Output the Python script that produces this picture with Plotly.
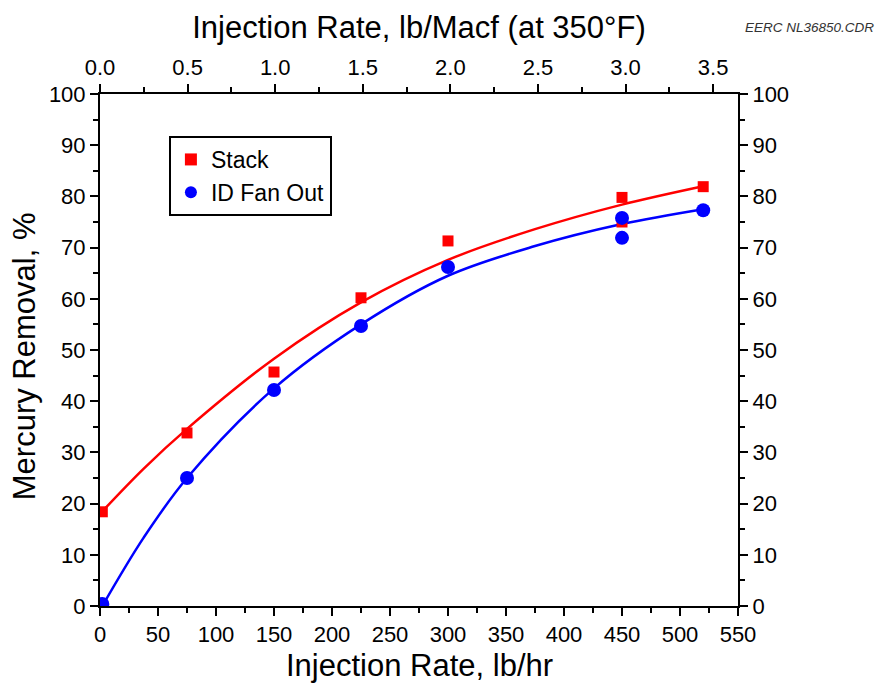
import plotly.graph_objects as go

# Measured points
stack_x = [2, 75, 150, 225, 300, 450, 450, 520]
stack_y = [18.4, 33.8, 45.7, 60.2, 71.3, 79.8, 75.0, 81.9]
fan_x = [2, 75, 150, 225, 300, 450, 450, 520]
fan_y = [0.4, 25.0, 42.2, 54.7, 66.2, 75.8, 71.9, 77.3]

# Fitted curves
curve_x = [2, 37.5, 75, 150, 225, 300, 375, 450, 520]
stack_fit = [18.5, 26.8, 34.6, 48.3, 59.3, 67.6, 73.6, 78.4, 82.0]
fan_fit = [0.0, 13.3, 25.0, 42.5, 55.0, 64.5, 70.3, 74.6, 77.5]

x_ticks = list(range(0, 551, 50))
y_ticks = list(range(0, 101, 10))
top_ticks = [0.0, 0.5, 1.0, 1.5, 2.0, 2.5, 3.0, 3.5]
top_range = [0, 3.642]

RED = "#ff0000"
BLUE = "#0000ff"
FAM = "Liberation Sans, Arial"
TICKFONT = dict(family=FAM, size=22, color="black")
TITLEFONT = dict(family=FAM, size=31, color="black")

fig = go.Figure()
fig.add_trace(go.Scatter(x=curve_x, y=stack_fit, mode="lines", line=dict(color=RED, width=2.5, shape="spline"),
                         showlegend=False, hoverinfo="skip"))
fig.add_trace(go.Scatter(x=curve_x, y=fan_fit, mode="lines", line=dict(color=BLUE, width=2.5, shape="spline"),
                         showlegend=False, hoverinfo="skip"))
fig.add_trace(go.Scatter(x=stack_x, y=stack_y, mode="markers", name="Stack",
                         marker=dict(symbol="square", size=11, color=RED)))
fig.add_trace(go.Scatter(x=fan_x, y=fan_y, mode="markers", name="ID Fan Out",
                         marker=dict(symbol="circle", size=14, color=BLUE)))
# invisible trace to anchor secondary axes
fig.add_trace(go.Scatter(x=top_range, y=[0, 0], xaxis="x2", yaxis="y2", mode="markers",
                         marker=dict(opacity=0), showlegend=False, hoverinfo="skip"))

axis_common = dict(showgrid=False, zeroline=False, showline=True, linecolor="black", linewidth=2,
                   ticks="outside", tickcolor="black", tickwidth=2, ticklen=8, tickfont=TICKFONT)
minor_common = dict(ticks="outside", ticklen=5, tickwidth=2, tickcolor="black")

fig.update_layout(
    width=881, height=686,
    margin=dict(l=100, r=143, t=94, b=80),
    paper_bgcolor="white", plot_bgcolor="white",
    font=dict(family=FAM, color="black"),
    xaxis=dict(range=[0, 550], tickvals=x_ticks, ticktext=[str(v) for v in x_ticks],
               minor=dict(dtick=25, **minor_common), **axis_common),
    yaxis=dict(range=[0, 100], tickvals=y_ticks, ticktext=[str(v) for v in y_ticks],
               minor=dict(dtick=5, **minor_common), **axis_common),
    xaxis2=dict(range=top_range, overlaying="x", side="top", anchor="y2", tickvals=top_ticks,
                ticktext=[f"{v:.1f}" for v in top_ticks],
                title=dict(text="Injection Rate, lb/Macf (at 350°F)", font=TITLEFONT, standoff=7),
                minor=dict(dtick=0.25, **minor_common), **axis_common),
    yaxis2=dict(range=[0, 100], overlaying="y", side="right", anchor="x2", tickvals=y_ticks,
                ticktext=[str(v) for v in y_ticks],
                minor=dict(dtick=5, **minor_common), **axis_common),
    legend=dict(x=0.108, y=0.918, xanchor="left", yanchor="top", bordercolor="black", borderwidth=2,
                bgcolor="white", font=dict(family=FAM, size=23, color="black"),
                itemsizing="constant", tracegroupgap=0),
    annotations=[
        dict(text="<i>EERC NL36850.CDR</i>", xref="paper", yref="paper", x=1.217, y=1.13,
             xanchor="right", yanchor="middle", showarrow=False,
             font=dict(family=FAM, size=13.5, color="#333333")),
        dict(text="Injection Rate, lb/hr", xref="paper", yref="paper", x=0.5, y=-0.117,
             xanchor="center", yanchor="middle", showarrow=False, font=TITLEFONT),
        dict(text="Mercury Removal, %", xref="paper", yref="paper", x=-0.119, y=0.488,
             xanchor="center", yanchor="middle", textangle=-90, showarrow=False, font=TITLEFONT),
    ],
)

fig.write_html("out.html")
